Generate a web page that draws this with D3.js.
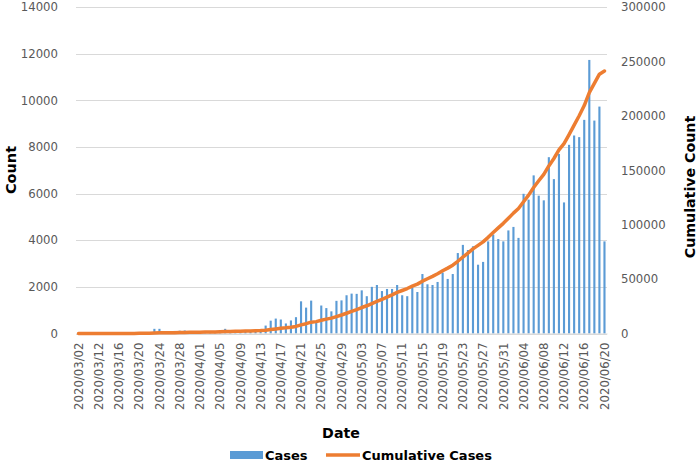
<!DOCTYPE html>
<html>
<head>
<meta charset="utf-8">
<script src="https://cdn.jsdelivr.net/npm/d3@7"></script>
<style>
  html, body { margin: 0; padding: 0; background: #fff; }
  svg { display: block; }
</style>
</head>
<body>
<svg id="chart" width="697" height="462"></svg>
<script>
const categories = [
  "2020/03/02","2020/03/09","2020/03/10","2020/03/11","2020/03/12","2020/03/13","2020/03/14","2020/03/15",
  "2020/03/16","2020/03/17","2020/03/18","2020/03/19","2020/03/20","2020/03/21","2020/03/22","2020/03/23",
  "2020/03/24","2020/03/25","2020/03/26","2020/03/27","2020/03/28","2020/03/29","2020/03/30","2020/03/31",
  "2020/04/01","2020/04/02","2020/04/03","2020/04/04","2020/04/05","2020/04/06","2020/04/07","2020/04/08",
  "2020/04/09","2020/04/10","2020/04/11","2020/04/12","2020/04/13","2020/04/14","2020/04/15","2020/04/16",
  "2020/04/17","2020/04/18","2020/04/19","2020/04/20","2020/04/21","2020/04/22","2020/04/23","2020/04/24",
  "2020/04/25","2020/04/26","2020/04/27","2020/04/28","2020/04/29","2020/04/30","2020/05/01","2020/05/02",
  "2020/05/03","2020/05/04","2020/05/05","2020/05/06","2020/05/07","2020/05/08","2020/05/09","2020/05/10",
  "2020/05/11","2020/05/12","2020/05/13","2020/05/14","2020/05/15","2020/05/16","2020/05/17","2020/05/18",
  "2020/05/19","2020/05/20","2020/05/21","2020/05/22","2020/05/23","2020/05/24","2020/05/25","2020/05/26",
  "2020/05/27","2020/05/28","2020/05/29","2020/05/30","2020/05/31","2020/06/01","2020/06/02","2020/06/03",
  "2020/06/04","2020/06/05","2020/06/06","2020/06/07","2020/06/08","2020/06/09","2020/06/10","2020/06/11",
  "2020/06/12","2020/06/13","2020/06/14","2020/06/15","2020/06/16","2020/06/17","2020/06/18","2020/06/19",
  "2020/06/20"
];

const cases = [
  1, 2, 1, 3, 5, 4, 8, 10, 12, 10, 15, 20, 25, 30, 40, 200,
  200, 20, 40, 110, 120, 130, 60, 70, 80, 80, 90, 90, 100, 200, 100, 120,
  110, 130, 140, 150, 170, 340, 550, 640, 600, 430, 560, 700, 1380, 1110, 1410, 500,
  1200, 1090, 950, 1400, 1420, 1640, 1710, 1700, 1850, 1600, 2000, 2080, 1820, 1910,
  1910, 2080, 1640, 1600, 1970, 1780, 2550, 2110, 2080, 2210, 2610, 2340, 2550, 3450,
  3800, 3580, 3740, 2950, 3070, 3950, 4240, 4050, 3950, 4420, 4570, 4100, 5990, 5740,
  6780, 5910, 5710, 7560, 6620, 7700, 5620, 8090, 8490, 8420, 9160, 11730, 9130, 9730,
  3950
];

const cumulative = [
  1, 3, 4, 7, 12, 16, 24, 34, 46, 56, 71, 91, 116, 146, 186, 386,
  586, 606, 646, 756, 876, 1006, 1066, 1136, 1216, 1296, 1386, 1476, 1576, 1776, 1876, 1996,
  2106, 2236, 2376, 2526, 2696, 3036, 3586, 4226, 4826, 5256, 5816, 6516, 7896, 9006, 10416, 10916,
  12116, 13206, 14156, 15556, 16976, 18616, 20326, 22026, 23876, 25476, 27476, 29556, 31376, 33436,
  35496, 37726, 39516, 41316, 43486, 45366, 48066, 50326, 52506, 54866, 57626, 60066, 62766, 66366,
  70266, 73946, 77786, 80936, 84206, 88356, 92796, 97046, 101196, 105816, 110586, 114886, 121076, 127116,
  134196, 140306, 146216, 153976, 160796, 168696, 174516, 182806, 191496, 200116, 209476, 221406, 229736, 238266,
  241216
];

const tickLabels = [
  "2020/03/02","2020/03/12","2020/03/16","2020/03/20","2020/03/24","2020/03/28","2020/04/01",
  "2020/04/05","2020/04/09","2020/04/13","2020/04/17","2020/04/21","2020/04/25","2020/04/29",
  "2020/05/03","2020/05/07","2020/05/11","2020/05/15","2020/05/19","2020/05/23","2020/05/27",
  "2020/05/31","2020/06/04","2020/06/08","2020/06/12","2020/06/16","2020/06/20"
];
const leftTicks = [0, 2000, 4000, 6000, 8000, 10000, 12000, 14000];
const rightTicks = [0, 50000, 100000, 150000, 200000, 250000, 300000];

const seriesNames = ["Cases", "Cumulative Cases"];
const colors = { bar: "#5b9bd5", line: "#ed7d31" };

const svg = d3.select("#chart");
svg.append("rect").attr("width", 697).attr("height", 462).attr("fill", "#fff");

const plot = { left: 76, right: 607, top: 7, bottom: 333.5 };
const FONT = "'DejaVu Sans', sans-serif";
const GRAY = "#595959";

const x = d3.scaleBand().domain(categories).range([plot.left, plot.right]).paddingInner(0.58).paddingOuter(0.29);
const yL = d3.scaleLinear().domain([0, 14000]).range([plot.bottom, plot.top]);
const yR = d3.scaleLinear().domain([0, 300000]).range([plot.bottom, plot.top]);

// gridlines
svg.append("g").selectAll("line").data(leftTicks).join("line")
  .attr("x1", plot.left).attr("x2", plot.right)
  .attr("y1", d => Math.round(yL(d)) + 0.5).attr("y2", d => Math.round(yL(d)) + 0.5)
  .attr("stroke", "#d9d9d9").attr("stroke-width", 1);

// left axis
const axL = d3.axisLeft(yL).tickValues(leftTicks).tickSize(0).tickPadding(0).tickFormat(d3.format("d"));
const gL = svg.append("g").attr("transform", `translate(${plot.left - 18},0)`).call(axL);
gL.select(".domain").remove();
gL.selectAll("text").attr("font-family", FONT).attr("font-size", 11.7).attr("fill", GRAY);

// right axis
const axR = d3.axisRight(yR).tickValues(rightTicks).tickSize(0).tickPadding(0).tickFormat(d3.format("d"));
const gR = svg.append("g").attr("transform", `translate(${plot.right + 14},0)`).call(axR);
gR.select(".domain").remove();
gR.selectAll("text").attr("font-family", FONT).attr("font-size", 11.7).attr("fill", GRAY);

// bars
svg.append("g").selectAll("rect").data(categories).join("rect")
  .attr("x", (d) => x(d))
  .attr("width", x.bandwidth())
  .attr("y", (d, i) => yL(cases[i]))
  .attr("height", (d, i) => plot.bottom - yL(cases[i]))
  .attr("fill", colors.bar);

// bottom axis
const axB = d3.axisBottom(x).tickValues(tickLabels).tickSize(0).tickPadding(0);
const gB = svg.append("g").attr("transform", `translate(0,${plot.bottom})`).call(axB);
gB.select(".domain").attr("stroke", "#d9d9d9");
gB.selectAll("text")
  .attr("font-family", FONT).attr("font-size", 11.7).attr("fill", GRAY)
  .attr("text-anchor", "end")
  .attr("transform", "rotate(-90)")
  .attr("x", -9).attr("y", 0).attr("dy", "0.36em");

// cumulative line
const line = d3.line()
  .x((d, i) => x(categories[i]) + x.bandwidth() / 2)
  .y(d => yR(d));
svg.append("path").datum(cumulative)
  .attr("d", line)
  .attr("fill", "none")
  .attr("stroke", colors.line)
  .attr("stroke-width", 3.5)
  .attr("stroke-linejoin", "round")
  .attr("stroke-linecap", "round");

// axis titles
svg.append("text").attr("transform", "translate(16,170) rotate(-90)")
  .attr("text-anchor", "middle").attr("font-family", FONT).attr("font-weight", "bold")
  .attr("font-size", 14.5).attr("fill", "#000").text("Count");
svg.append("text").attr("transform", "translate(695,187) rotate(-90)")
  .attr("text-anchor", "middle").attr("font-family", FONT).attr("font-weight", "bold")
  .attr("font-size", 14.2).attr("fill", "#000").text("Cumulative Count");
svg.append("text").attr("x", 341).attr("y", 438)
  .attr("text-anchor", "middle").attr("font-family", FONT).attr("font-weight", "bold")
  .attr("font-size", 14.2).attr("fill", "#000").text("Date");

// legend
const lg = svg.append("g");
lg.append("rect").attr("x", 230).attr("y", 451).attr("width", 33).attr("height", 8).attr("fill", colors.bar);
lg.append("text").attr("x", 265).attr("y", 459.5).attr("font-family", FONT).attr("font-weight", "bold")
  .attr("font-size", 13).attr("fill", "#000").text(seriesNames[0]);
lg.append("line").attr("x1", 326).attr("x2", 360).attr("y1", 455).attr("y2", 455)
  .attr("stroke", colors.line).attr("stroke-width", 3.5);
lg.append("text").attr("x", 362).attr("y", 459.5).attr("font-family", FONT).attr("font-weight", "bold")
  .attr("font-size", 13).attr("fill", "#000").text(seriesNames[1]);
</script>
</body>
</html>
